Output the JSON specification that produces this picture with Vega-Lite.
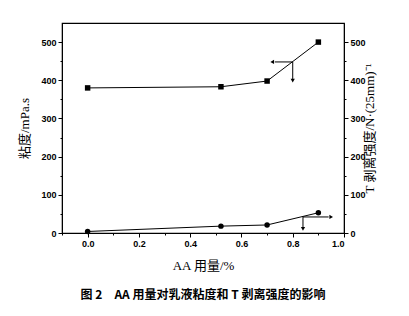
{
  "$schema": "https://vega.github.io/schema/vega-lite/v6.json",
  "width": 282,
  "height": 210,
  "autosize": "none",
  "padding": {"left": 62, "top": 23, "right": 65, "bottom": 83},
  "background": "white",
  "title": {
    "text": "图 2\u3000AA 用量对乳液粘度和 T 剥离强度的影响",
    "orient": "bottom",
    "anchor": "middle",
    "font": "Noto Sans CJK SC",
    "fontSize": 12,
    "fontWeight": "bold",
    "color": "black",
    "offset": 18
  },
  "config": {
    "view": {"stroke": "black", "strokeWidth": 1.2},
    "axis": {
      "domainColor": "black",
      "tickColor": "black",
      "labelColor": "black",
      "titleColor": "black",
      "labelFont": "Liberation Sans",
      "labelFontWeight": "bold",
      "labelFontSize": 9,
      "titleFont": "Liberation Serif, Noto Sans CJK SC",
      "titleFontWeight": "normal",
      "titleFontSize": 13,
      "grid": false,
      "tickSize": 4
    }
  },
  "datasets": {
    "visc": [
      {"aa": 0.0, "v": 380},
      {"aa": 0.52, "v": 383},
      {"aa": 0.7, "v": 398},
      {"aa": 0.9, "v": 500}
    ],
    "peel": [
      {"aa": 0.0, "p": 4},
      {"aa": 0.52, "p": 18},
      {"aa": 0.7, "p": 21},
      {"aa": 0.9, "p": 53}
    ],
    "arrows": [
      {"x": 0.8, "x2": 0.73, "y": 448, "y2": 448},
      {"x": 0.8, "x2": 0.8, "y": 448, "y2": 402},
      {"x": 0.84, "x2": 0.94, "y": 42, "y2": 42},
      {"x": 0.84, "x2": 0.84, "y": 42, "y2": 14}
    ],
    "heads": [
      {"x": 0.72, "y": 448, "dir": "left"},
      {"x": 0.8, "y": 399, "dir": "down"},
      {"x": 0.95, "y": 42, "dir": "right"},
      {"x": 0.84, "y": 11, "dir": "down"}
    ]
  },
  "layer": [
    {
      "data": {"name": "visc"},
      "encoding": {
        "x": {
          "field": "aa", "type": "quantitative",
          "scale": {"domain": [-0.1, 1.0], "nice": false, "zero": false},
          "axis": {"title": "AA 用量/%", "orient": "bottom", "values": [0, 0.2, 0.4, 0.6, 0.8, 1.0], "format": ".1f", "titlePadding": 11}
        },
        "y": {
          "field": "v", "type": "quantitative",
          "scale": {"domain": [0, 550], "nice": false},
          "axis": {"title": "粘度/mPa.s", "values": [0, 100, 200, 300, 400, 500], "orient": "left", "titlePadding": 9}
        }
      },
      "layer": [
        {"mark": {"type": "line", "color": "black", "strokeWidth": 1}},
        {"mark": {"type": "point", "shape": "square", "filled": true, "color": "black", "size": 30, "opacity": 1}}
      ]
    },
    {
      "data": {"name": "peel"},
      "encoding": {
        "x": {
          "field": "aa", "type": "quantitative",
          "scale": {"domain": [-0.1, 1.0], "nice": false, "zero": false},
          "axis": {"title": null, "orient": "bottom", "values": [-0.1, 0.1, 0.3, 0.5, 0.7, 0.9], "labels": false, "domain": false, "tickSize": 2}
        },
        "y": {
          "field": "p", "type": "quantitative",
          "scale": {"domain": [0, 550], "nice": false},
          "axis": {"title": "T 剥离强度/N·(25mm)⁻¹", "titleAngle": 270, "values": [0, 100, 200, 300, 400, 500], "orient": "right", "titlePadding": 11}
        }
      },
      "layer": [
        {"mark": {"type": "line", "color": "black", "strokeWidth": 1}},
        {"mark": {"type": "point", "shape": "circle", "filled": true, "color": "black", "size": 30, "opacity": 1}}
      ]
    },
    {
      "data": {"name": "arrows"},
      "mark": {"type": "rule", "color": "black", "strokeWidth": 1},
      "encoding": {
        "x": {"field": "x", "type": "quantitative", "scale": {"domain": [-0.1, 1.0], "nice": false, "zero": false}, "axis": null},
        "x2": {"field": "x2"},
        "y": {"field": "y", "type": "quantitative", "scale": {"domain": [0, 550], "nice": false},
          "axis": {"title": null, "orient": "left", "values": [50, 150, 250, 350, 450], "labels": false, "domain": false, "tickSize": 2}},
        "y2": {"field": "y2"}
      }
    },
    {
      "data": {"name": "heads"},
      "mark": {"type": "point", "filled": true, "color": "black", "size": 18, "opacity": 1},
      "encoding": {
        "x": {"field": "x", "type": "quantitative", "scale": {"domain": [-0.1, 1.0], "nice": false, "zero": false}, "axis": null},
        "y": {"field": "y", "type": "quantitative", "scale": {"domain": [0, 550], "nice": false},
          "axis": {"title": null, "orient": "right", "values": [50, 150, 250, 350, 450], "labels": false, "domain": false, "tickSize": 2}},
        "shape": {
          "field": "dir", "type": "nominal",
          "scale": {"domain": ["left", "down", "right"], "range": ["triangle-left", "triangle-down", "triangle-right"]},
          "legend": null
        }
      }
    }
  ],
  "resolve": {"scale": {"y": "independent"}, "axis": {"x": "independent"}}
}
